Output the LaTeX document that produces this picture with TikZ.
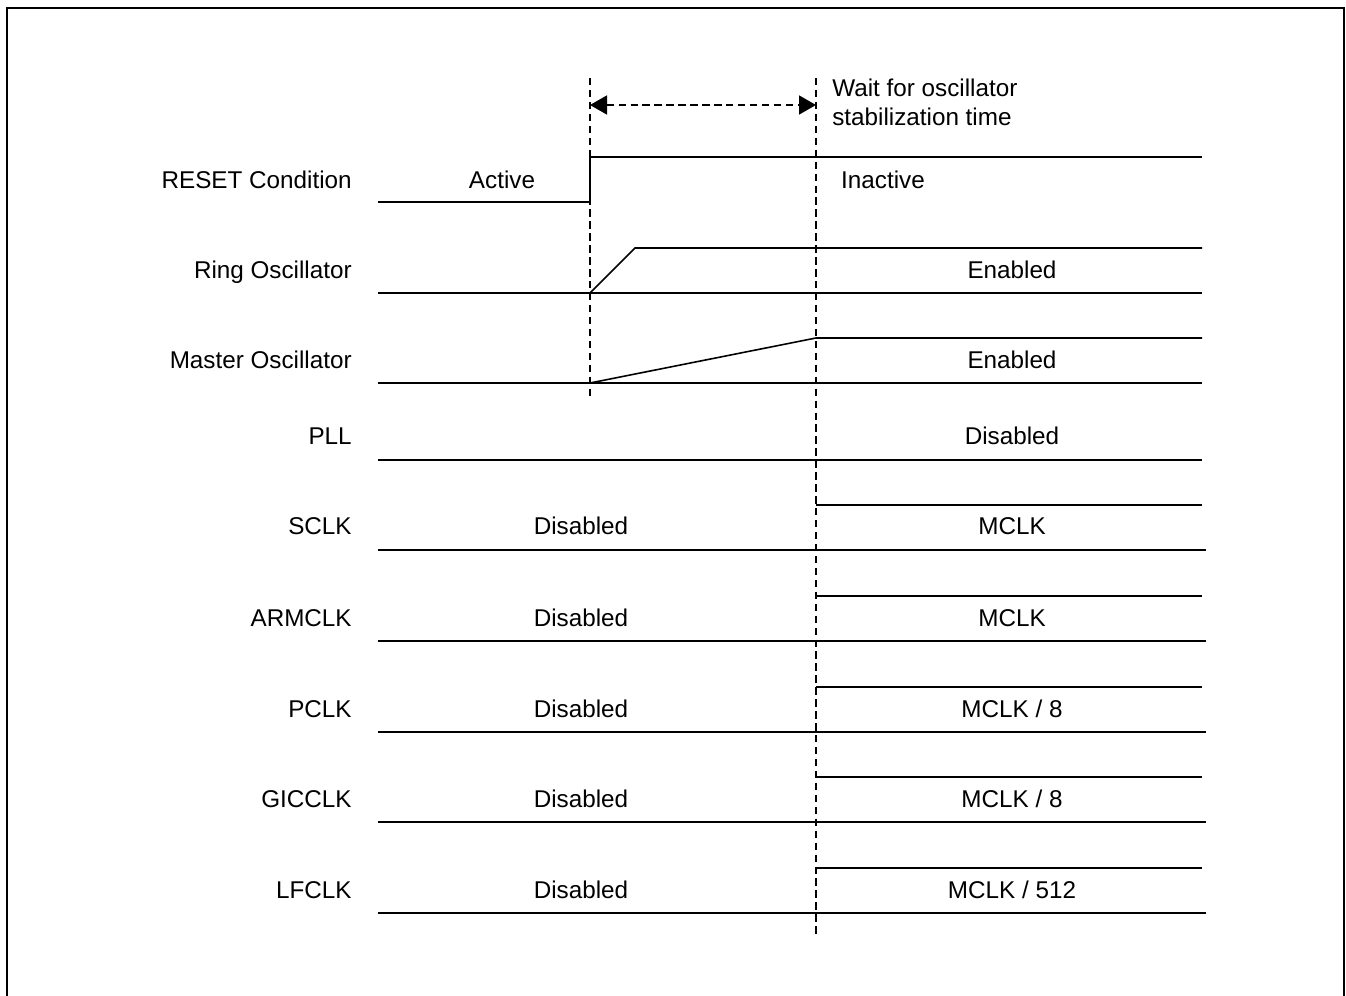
\documentclass[tikz,border=0pt]{standalone}
\usepackage{fontspec}
\setmainfont{Liberation Sans}
\usetikzlibrary{arrows.meta}
\tikzset{
  sig/.style={line width=0.9pt},
  guide/.style={line width=0.9pt, dash pattern=on 4.2pt off 2.6pt},
  lbl/.style={anchor=base east, inner sep=0pt, font=\fontsize{13.8}{16}\selectfont},
  val/.style={anchor=base, inner sep=0pt, font=\fontsize{13.8}{16}\selectfont},
}
\begin{document}
\begin{tikzpicture}
\begin{scope}[x=0.02cm, y=-0.02cm]
  \useasboundingbox (0,0) rectangle (1346,996);
  % Frame (bottom edge runs off the page)
  \draw[line width=1.1pt] (7,996) -- (7,8) -- (1344,8) -- (1344,996);
  % Time markers
  \coordinate (t0top) at (590,78);
  \coordinate (t0bot) at (590,400);
  \coordinate (t1top) at (816,78);
  \coordinate (t1bot) at (816,937);
  \draw[guide] (t0top) -- (t0bot);
  \draw[guide] (t1top) -- (t1bot);
  % Stabilization interval
  \coordinate (a0) at (590,105);
  \coordinate (a1) at (816,105);
  \draw[guide, {Triangle[length=0.34cm,width=0.38cm]}-{Triangle[length=0.34cm,width=0.38cm]}] (a0) -- (a1);
  \node[anchor=base west, inner sep=0pt, font=\fontsize{13.8}{16}\selectfont] (wait) at (832,97) {Wait for oscillator};
  \node[anchor=base west, inner sep=0pt, font=\fontsize{13.8}{16}\selectfont] (stab) at (832,126) {stabilization time};
  % RESET
  \node[lbl] (lbl-reset) at (352,189) {RESET Condition};
  \draw[sig] (378,202) -- (590,202) -- (590,157) -- (1202,157);
  \node[val] (act) at (502,189) {Active};
  \node[val] (inact) at (883,189) {Inactive};
  % Ring oscillator
  \node[lbl] (lbl-ring) at (352,279) {Ring Oscillator};
  \draw[sig] (378,293) -- (1202,293);
  \draw[sig] (590,293) -- (635,248) -- (1202,248);
  \node[val] (ring-en) at (1012,279) {Enabled};
  % Master oscillator
  \node[lbl] (lbl-master) at (352,369) {Master Oscillator};
  \draw[sig] (378,383) -- (1202,383);
  \draw[sig] (590,383) -- (816,338) -- (1202,338);
  \node[val] (master-en) at (1012,369) {Enabled};
  % PLL
  \node[lbl] (lbl-pll) at (352,445) {PLL};
  \draw[sig] (378,460) -- (1202,460);
  \node[val] (pll-dis) at (1012,445) {Disabled};
  % Clocks
  \foreach \name/\yy/\rate in {SCLK/526/MCLK, ARMCLK/617/MCLK, PCLK/708/{MCLK / 8},
                               GICCLK/798/{MCLK / 8}, LFCLK/889/{MCLK / 512}}{
    \node[lbl] (lbl-\name) at (352,\yy+9) {\name};
    \draw[sig] (816,\yy-21) -- (1202,\yy-21);
    \draw[sig] (378,\yy+24) -- (1206,\yy+24);
    \node[val] (off-\name) at (581,\yy+9) {Disabled};
    \node[val] (on-\name) at (1012,\yy+9) {\rate};
  }
\end{scope}
\end{tikzpicture}
\end{document}
